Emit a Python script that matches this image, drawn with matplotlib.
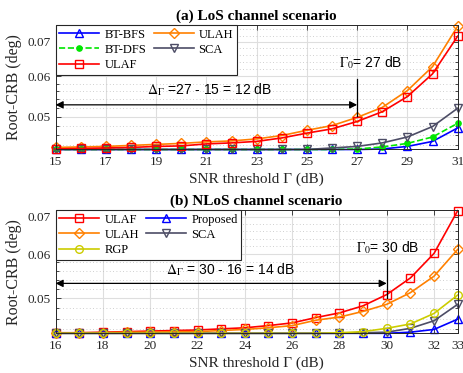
import numpy as np
import matplotlib
matplotlib.use('Agg')
import matplotlib.pyplot as plt
from matplotlib.ticker import FixedLocator, NullFormatter

plt.rcParams['font.family'] = ['Liberation Serif', 'DejaVu Serif']
plt.rcParams['mathtext.fontset'] = 'stix'

# (a) LoS
snr_a = np.arange(15, 32)
bt_bfs = [0.0431, 0.0431, 0.0431, 0.0431, 0.0431, 0.0431, 0.0431, 0.0431, 0.0431,
          0.0431, 0.0431, 0.0431, 0.0431, 0.0432, 0.0437, 0.0447, 0.0475]
bt_dfs = [0.0431, 0.0431, 0.0431, 0.0431, 0.0431, 0.0431, 0.0431, 0.0431, 0.0431,
          0.0431, 0.0431, 0.0431, 0.0432, 0.0436, 0.0443, 0.0456, 0.0485]
ulaf_a = [0.0432, 0.0433, 0.0434, 0.0435, 0.0437, 0.0438, 0.0442, 0.0444, 0.0447,
          0.0454, 0.0464, 0.0473, 0.0489, 0.0511, 0.0547, 0.0606, 0.0718]
ulah_a = [0.0435, 0.0436, 0.0437, 0.0439, 0.0441, 0.0443, 0.0446, 0.0448, 0.0452,
          0.0459, 0.0470, 0.0480, 0.0498, 0.0521, 0.0562, 0.0626, 0.0751]
sca_a = [0.0431, 0.0431, 0.0431, 0.0431, 0.0431, 0.0431, 0.0431, 0.0431, 0.0431,
         0.0431, 0.0431, 0.0434, 0.0437, 0.0444, 0.0456, 0.0478, 0.0519]

# (b) NLoS
snr_b = np.arange(16, 34)
ulaf_b = [0.0434, 0.0434, 0.0435, 0.0436, 0.0437, 0.0438, 0.0439, 0.0441, 0.0443,
          0.0447, 0.0452, 0.0462, 0.0471, 0.0485, 0.0508, 0.0544, 0.0602, 0.0718]
ulah_b = [0.0433, 0.0434, 0.0434, 0.0435, 0.0435, 0.0436, 0.0436, 0.0438, 0.0440,
          0.0443, 0.0447, 0.0457, 0.0463, 0.0474, 0.0488, 0.0512, 0.0548, 0.0612]
rgp_b = [0.0433, 0.0433, 0.0433, 0.0433, 0.0433, 0.0433, 0.0433, 0.0433, 0.0433,
         0.0433, 0.0433, 0.0433, 0.0434, 0.0436, 0.0442, 0.0450, 0.0470, 0.0507]
prop_b = [0.0433, 0.0433, 0.0433, 0.0433, 0.0433, 0.0433, 0.0433, 0.0433, 0.0433,
          0.0433, 0.0433, 0.0433, 0.0433, 0.0433, 0.0433, 0.0435, 0.0440, 0.0459]
sca_b = [0.0433, 0.0433, 0.0433, 0.0433, 0.0433, 0.0433, 0.0433, 0.0433, 0.0433,
         0.0433, 0.0433, 0.0433, 0.0433, 0.0434, 0.0435, 0.0442, 0.0456, 0.0488]

xticks_a = [15, 17, 19, 21, 23, 25, 27, 29, 31]
xticks_b = [16, 18, 20, 22, 24, 26, 28, 30, 32, 33]
yticks = [0.05, 0.06, 0.07]

c_blue = '#0000ff'
c_green = '#00e600'
c_red = '#ff0000'
c_orange = '#ff8000'
c_gray = '#4d4d66'
c_yel = '#cccc00'

fig = plt.figure(figsize=(4.64, 3.73), dpi=100)
ax1 = fig.add_axes([0.1198, 0.5992, 0.8666, 0.3338])
ax2 = fig.add_axes([0.1198, 0.1064, 0.8666, 0.3306])

kw = dict(lw=1.2, ms=5.5, mew=1.0, clip_on=False)
kwd = dict(lw=1.2, ms=5, mew=1.0, clip_on=False)

h_bfs, = ax1.plot(snr_a, bt_bfs, '-^', color=c_blue, mfc='none', label='BT-BFS', **kw)
h_ulah, = ax1.plot(snr_a, ulah_a, '-D', color=c_orange, mfc='none', label='ULAH', **kwd)
h_dfs, = ax1.plot(snr_a, bt_dfs, '--o', color=c_green, mfc=c_green, label='BT-DFS',
                  lw=1.2, ms=3.8, mew=1.0, clip_on=False)
h_sca, = ax1.plot(snr_a, sca_a, '-v', color=c_gray, mfc='none', label='SCA', **kw)
h_ulaf, = ax1.plot(snr_a, ulaf_a, '-s', color=c_red, mfc='none', label='ULAF', **kw)

g_ulaf, = ax2.plot(snr_b, ulaf_b, '-s', color=c_red, mfc='none', label='ULAF', **kw)
g_prop, = ax2.plot(snr_b, prop_b, '-^', color=c_blue, mfc='none', label='Proposed', **kw)
g_ulah, = ax2.plot(snr_b, ulah_b, '-D', color=c_orange, mfc='none', label='ULAH', **kwd)
g_sca, = ax2.plot(snr_b, sca_b, '-v', color=c_gray, mfc='none', label='SCA', **kw)
g_rgp, = ax2.plot(snr_b, rgp_b, '-o', color=c_yel, mfc='none', label='RGP', **kw)

def style(ax, xt, xlim, ylim, title):
    ax.set_yscale('log')
    ax.set_xlim(*xlim)
    ax.set_ylim(*ylim)
    ax.set_xticks(xt)
    ax.set_xticklabels([str(v) for v in xt])
    ax.yaxis.set_major_locator(FixedLocator(yticks))
    ax.yaxis.set_minor_locator(FixedLocator(
        [v for v in np.arange(0.044, 0.0751, 0.002) if min(abs(v - t) for t in yticks) > 1e-6]))
    ax.set_yticklabels(['0.05', '0.06', '0.07'])
    ax.yaxis.set_minor_formatter(NullFormatter())
    ax.xaxis.set_minor_locator(FixedLocator([]))
    ax.grid(True, which='major', color='#dedede', lw=0.8, ls='-')
    ax.grid(True, which='minor', axis='y', color='#c0c0c0', lw=0.6, ls=(0, (1, 3)))
    ax.set_axisbelow(True)
    ax.tick_params(which='both', direction='in', top=True, right=True,
                   colors='#262626', labelsize=9.5, labelcolor='#262626', width=0.6)
    ax.tick_params(which='major', length=3.5)
    ax.tick_params(which='minor', length=2)
    ax.tick_params(axis='x', pad=5)
    for s in ax.spines.values():
        s.set_color('#262626')
        s.set_linewidth(0.7)
    ax.set_xlabel('SNR threshold Γ (dB)', fontsize=11, color='#262626', labelpad=3)
    ax.set_ylabel('Root-CRB (deg)', fontsize=11.5, color='#262626', labelpad=4)
    ax.set_title(title, fontsize=11, fontweight='bold', pad=4)

style(ax1, xticks_a, (15, 31), (0.0431, 0.0755), '(a) LoS channel scenario')
style(ax2, xticks_b, (16, 33), (0.0433, 0.0720), '(b) NLoS channel scenario')

def leg(ax, handles):
    lg = ax.legend(handles=handles, loc='upper left', ncol=2, fontsize=9,
                   borderaxespad=0, frameon=True, fancybox=False, handlelength=3.2,
                   columnspacing=0.6, labelspacing=0.25, handletextpad=0.4,
                   borderpad=0.3)
    lg.get_frame().set_edgecolor('#262626')
    lg.get_frame().set_linewidth(0.8)
    lg.get_frame().set_alpha(1)

leg(ax1, [h_bfs, h_dfs, h_ulaf, h_ulah, h_sca])
leg(ax2, [g_ulaf, g_ulah, g_rgp, g_prop, g_sca])

aprops = dict(arrowstyle='<|-|>', color='black', lw=0.9, mutation_scale=11,
              shrinkA=0, shrinkB=0)
sans = 'Liberation Sans'

# annotations (a)
ax1.annotate('', xy=(15, 0.0527), xytext=(27, 0.0527), arrowprops=aprops)
ax1.plot([27, 27], [0.0501, 0.0591], color='black', lw=0.9)
ax1.text(18.64, 0.0564, r'$\Delta_\Gamma$ =27 - 15 = 12 dB', fontsize=10,
         family=sans, va='center', ha='left')
ax1.text(26.29, 0.0638, r'$\Gamma_0$= 27 dB', fontsize=10, family=sans,
         va='center', ha='left')

# annotations (b)
ax2.annotate('', xy=(16, 0.0532), xytext=(30, 0.0532), arrowprops=aprops)
ax2.plot([30, 30], [0.0501, 0.0587], color='black', lw=0.9)
ax2.text(20.66, 0.0562, r'$\Delta_\Gamma$ = 30 - 16 = 14 dB', fontsize=10,
         family=sans, va='center', ha='left')
ax2.text(28.7, 0.0617, r'$\Gamma_0$= 30 dB', fontsize=10, family=sans,
         va='center', ha='left')

fig.savefig('out.png', dpi=100)
